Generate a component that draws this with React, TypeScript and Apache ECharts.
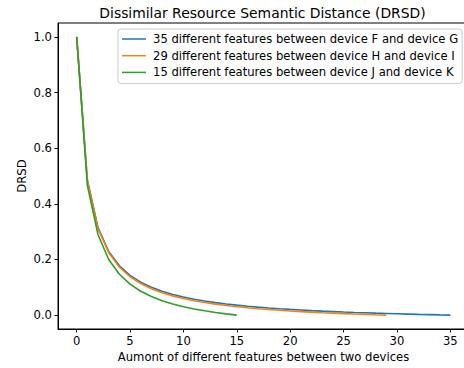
import React, { useEffect, useRef } from "react";
import * as echarts from "echarts";

const xTicks = [0, 5, 10, 15, 20, 25, 30, 35];
const yTicks = [0, 0.2, 0.4, 0.6, 0.8, 1.0];

const seriesNames = [
  "35 different features between device F and device G",
  "29 different features between device H and device I",
  "15 different features between device J and device K",
];

const drsdFG = [
  1, 0.4857, 0.3143, 0.2286, 0.1771, 0.1429, 0.1184, 0.1, 0.0857, 0.0743, 0.0649,
  0.0571, 0.0505, 0.0449, 0.04, 0.0357, 0.0319, 0.0286, 0.0256, 0.0229, 0.0204,
  0.0182, 0.0161, 0.0143, 0.0126, 0.011, 0.0095, 0.0082, 0.0069, 0.0057, 0.0046,
  0.0036, 0.0026, 0.0017, 0.0008, 0,
];
const drsdHI = [
  1, 0.4828, 0.3103, 0.2241, 0.1724, 0.1379, 0.1133, 0.0948, 0.0805, 0.069, 0.0596,
  0.0517, 0.0451, 0.0394, 0.0345, 0.0302, 0.0264, 0.023, 0.02, 0.0172, 0.0148,
  0.0125, 0.0105, 0.0086, 0.0069, 0.0053, 0.0038, 0.0025, 0.0012, 0,
];
const drsdJK = [
  1, 0.4667, 0.2889, 0.2, 0.1467, 0.1111, 0.0857, 0.0667, 0.0519, 0.04, 0.0303,
  0.0222, 0.0154, 0.0095, 0.0044, 0,
];

const colors = ["#1f77b4", "#ff7f0e", "#2ca02c"];
const FONT = "DejaVu Sans";
const FS = 11.6;

export default function App() {
  const ref = useRef<HTMLDivElement>(null);
  useEffect(() => {
    if (!ref.current) return;
    const chart = echarts.init(ref.current, undefined, { renderer: "svg" });
    const allData = [drsdFG, drsdHI, drsdJK];
    chart.setOption({
      animation: false,
      backgroundColor: "#ffffff",
      textStyle: { fontFamily: FONT },
      grid: {
        left: 58,
        top: 23,
        width: 411,
        height: 306,
        outerBoundsMode: "none",
        containLabel: false,
        show: true,
        borderColor: "#000",
        borderWidth: 1,
        backgroundColor: "transparent",
      },
      graphic: [
        {
          type: "text",
          x: 262.5,
          y: 13,
          style: {
            text: "Dissimilar Resource Semantic Distance (DRSD)",
            font: `13.9px "${FONT}"`,
            fill: "#000",
            textAlign: "center",
            textVerticalAlign: "middle",
          },
        },
      ],
      legend: {
        orient: "vertical",
        left: 118,
        top: 29,
        padding: [4, 4, 5, 4],
        itemWidth: 24,
        itemHeight: 12,
        itemGap: 4.7,
        backgroundColor: "#fff",
        borderColor: "#cccccc",
        borderWidth: 1,
        borderRadius: 3,
        textStyle: { fontFamily: FONT, fontSize: FS, color: "#000", padding: [0, 0, 0, 2] },
        data: seriesNames.map((n) => ({ name: n, icon: "path://M0,0 L24,0 L24,1.5 L0,1.5 Z" })),
      },
      xAxis: {
        type: "value",
        min: -1.75,
        max: 36.75,
        splitLine: { show: false },
        name: "Aumont of different features between two devices",
        nameLocation: "middle",
        nameGap: 22,
        nameMoveOverlap: false,
        nameTextStyle: { fontFamily: FONT, fontSize: FS, color: "#000" },
        axisLine: { show: true, onZero: false, lineStyle: { color: "#000", width: 1 } },
        axisTick: { show: true, length: 3.5, lineStyle: { color: "#000" }, customValues: xTicks },
        axisLabel: {
          customValues: xTicks,
          fontFamily: FONT,
          fontSize: FS,
          color: "#000",
          margin: 6,
        },
      },
      yAxis: {
        type: "value",
        min: -0.05,
        max: 1.05,
        splitLine: { show: false },
        name: "DRSD",
        nameLocation: "middle",
        nameGap: 30,
        nameMoveOverlap: false,
        nameTextStyle: { fontFamily: FONT, fontSize: FS, color: "#000" },
        axisLine: { show: true, onZero: false, lineStyle: { color: "#000", width: 1 } },
        axisTick: { show: true, length: 3.5, lineStyle: { color: "#000" }, customValues: yTicks },
        axisLabel: {
          customValues: yTicks,
          fontFamily: FONT,
          fontSize: FS,
          color: "#000",
          margin: 6,
          formatter: (v: number) => v.toFixed(1),
        },
      },
      series: allData.map((d, i) => ({
        type: "line",
        name: seriesNames[i],
        data: d.map((v, x) => [x, v]),
        symbol: "none",
        showSymbol: false,
        color: colors[i],
        lineStyle: { color: colors[i], width: 1.6 },
        z: 2 + i,
      })),
    });
    return () => chart.dispose();
  }, []);
  return (
    <div
      ref={ref}
      style={{ position: "fixed", left: 0, top: 0, width: 464, height: 368 }}
    />
  );
}
